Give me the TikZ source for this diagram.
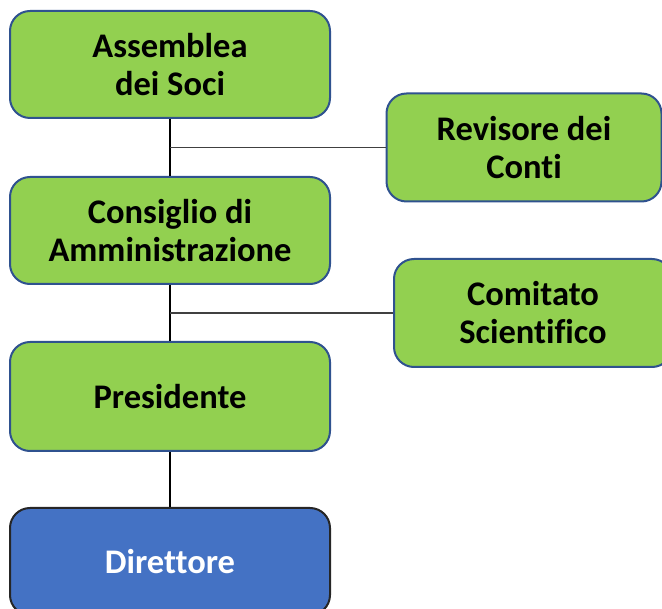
\documentclass[tikz,border=0pt]{standalone}
\usepackage{fontspec}
\setmainfont{Carlito}[Ligatures=NoCommon]
\definecolor{boxgreen}{HTML}{92D050}
\definecolor{boxedge}{HTML}{2F528F}
\definecolor{dirblue}{HTML}{4472C4}
\begin{document}
\begin{tikzpicture}[x=1pt,y=-1pt,
  orgbox/.style={draw=boxedge, line width=2pt, fill=boxgreen, rounded corners=20pt,
    align=center, font=\fontsize{34.5}{38}\selectfont\bfseries, inner sep=0pt},
  link/.style={draw=black, line width=1.1pt}]
\useasboundingbox (0,0) rectangle (662,609);
\node[orgbox, minimum width=320pt, minimum height=107pt] (ass) at (170,64.5) {Assemblea\\dei Soci};
\node[orgbox, minimum width=275pt, minimum height=108pt] (rev) at (524,147.5) {Revisore dei\\Conti};
\node[orgbox, minimum width=320pt, minimum height=107pt] (cda) at (170,230.5) {Consiglio di\\Amministrazione};
\node[orgbox, minimum width=278pt, minimum height=108pt] (com) at (533,313) {Comitato\\Scientifico};
\node[orgbox, minimum width=320pt, minimum height=109pt] (pre) at (170,396.5) {Presidente};
\node[orgbox, draw=black!85, fill=dirblue, text=white, minimum width=320pt, minimum height=107pt] (dir) at (170,561.5) {Direttore};
\draw[link] (ass.south) -- (cda.north);
\draw[link] (cda.south) -- (pre.north);
\draw[link] (pre.south) -- (dir.north);
\draw[link, draw=black!75] (ass.south |- rev.west) -- (rev.west);
\draw[link, draw=black!75] (cda.south |- com.west) -- (com.west);
\end{tikzpicture}
\end{document}
